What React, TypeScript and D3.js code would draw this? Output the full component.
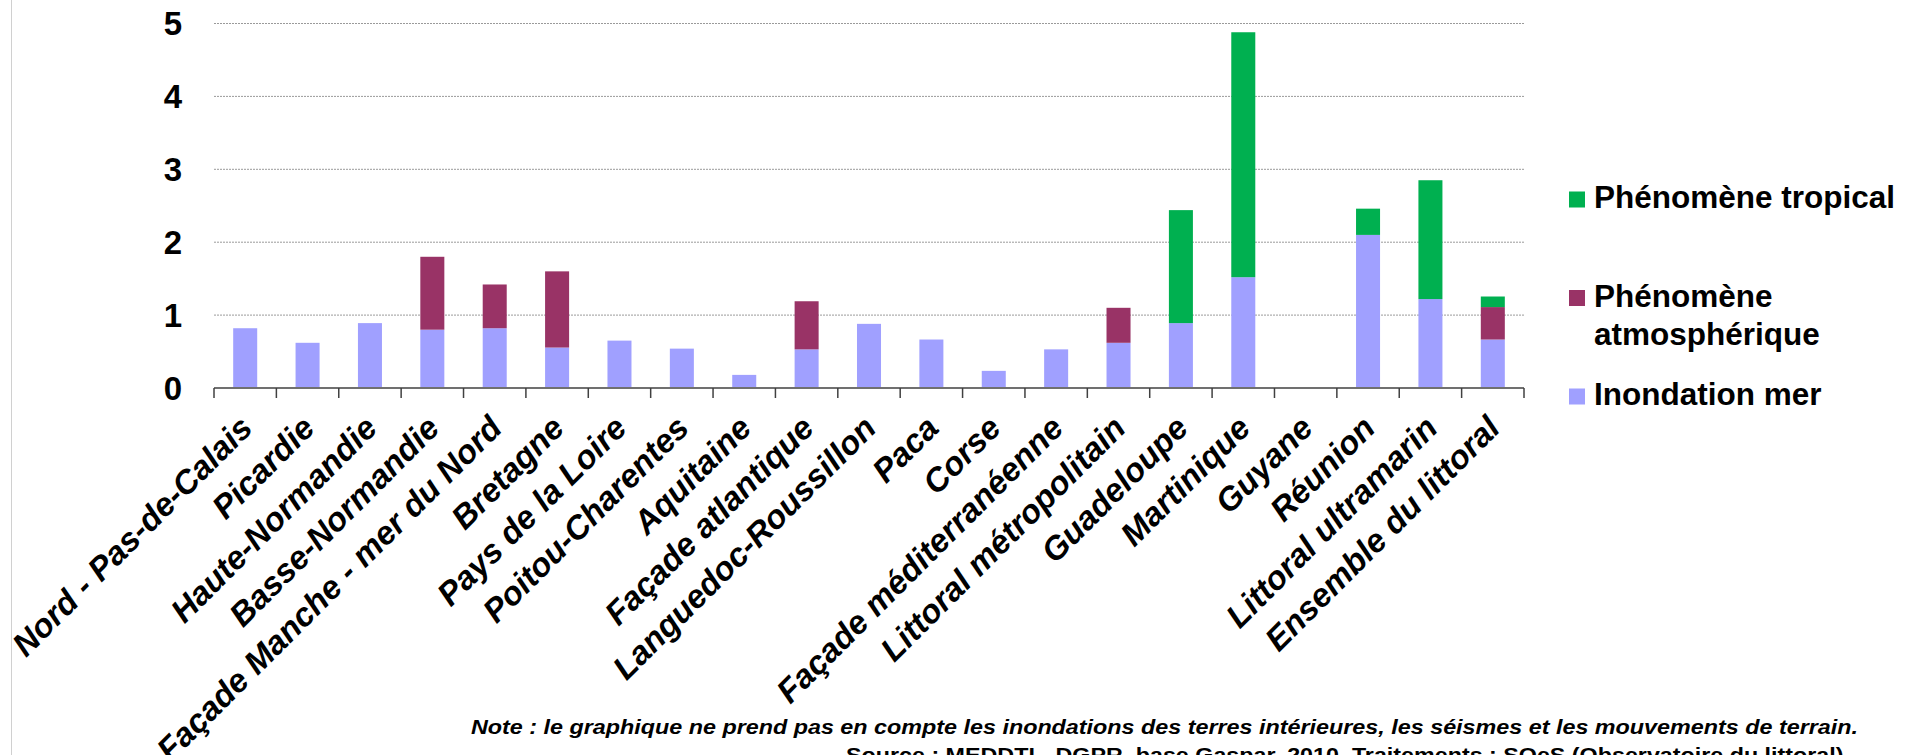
import React from "react";
import * as d3 from "d3";

const categories = [
  "Nord - Pas-de-Calais",
  "Picardie",
  "Haute-Normandie",
  "Basse-Normandie",
  "Façade Manche - mer du Nord",
  "Bretagne",
  "Pays de la Loire",
  "Poitou-Charentes",
  "Aquitaine",
  "Façade atlantique",
  "Languedoc-Roussillon",
  "Paca",
  "Corse",
  "Façade méditerranéenne",
  "Littoral métropolitain",
  "Guadeloupe",
  "Martinique",
  "Guyane",
  "Réunion",
  "Littoral ultramarin",
  "Ensemble du littoral",
];

const inondationMer = [0.82, 0.62, 0.89, 0.8, 0.82, 0.555, 0.65, 0.54, 0.18, 0.53, 0.88, 0.665, 0.235, 0.53, 0.62, 0.89, 1.52, 0, 2.1, 1.22, 0.665];
const phenomeneAtmospherique = [0, 0, 0, 1.0, 0.6, 1.045, 0, 0, 0, 0.66, 0, 0, 0, 0, 0.48, 0, 0, 0, 0, 0, 0.445];
const phenomeneTropical = [0, 0, 0, 0, 0, 0, 0, 0, 0, 0, 0, 0, 0, 0, 0, 1.55, 3.36, 0, 0.36, 1.63, 0.145];

const yTicks = [0, 1, 2, 3, 4, 5];

const seriesKeys = ["mer", "atm", "trop"];
const seriesColors: Record<string, string> = { mer: "#A0A0FF", atm: "#993366", trop: "#00B050" };

const legendItems = [
  { key: "trop", lines: ["Phénomène tropical"] },
  { key: "atm", lines: ["Phénomène", "atmosphérique"] },
  { key: "mer", lines: ["Inondation mer"] },
];

const FONT = "'Liberation Sans', Arial, Helvetica, sans-serif";

export default function App() {
  const W = 1909;
  const H = 755;
  const left = 214;
  const right = 1524;
  const y0 = 388;
  const yTop = 23.5;

  const x = d3.scaleBand<string>().domain(categories).range([left, right]).padding(0);
  const y = d3.scaleLinear().domain([0, 5]).range([y0, yTop]);

  const table = categories.map((c, i) => ({
    cat: c,
    mer: inondationMer[i],
    atm: phenomeneAtmospherique[i],
    trop: phenomeneTropical[i],
  }));
  const stacked = d3.stack<any>().keys(seriesKeys)(table);

  const bw = x.bandwidth();
  const barW = bw * 0.385;

  const legendX = 1569;
  const legendRows = [208, 306.5, 405];

  return (
    <svg
      width={W}
      height={H}
      style={{ position: "absolute", left: 0, top: 0, display: "block", background: "#fff" }}
      fontFamily={FONT}
    >
      <rect x={0} y={0} width={W} height={H} fill="#fff" />
      <line x1={11.5} x2={11.5} y1={0} y2={H} stroke="#d0d0d0" strokeWidth={1} />

      {/* gridlines */}
      {yTicks.filter((t) => t > 0).map((t) => (
        <line key={"g" + t} x1={left} x2={right} y1={y(t)} y2={y(t)} stroke="#9a9a9a" strokeWidth={1} strokeDasharray="2,1" />
      ))}

      {/* y tick labels */}
      {yTicks.map((t) => (
        <text key={"yl" + t} x={182} y={y(t)} dy="0.36em" textAnchor="end" fontSize={33} fontWeight="bold" fill="#000">
          {t}
        </text>
      ))}

      {/* bars */}
      {stacked.map((s) => (
        <g key={s.key} fill={seriesColors[s.key]}>
          {s.map((d: any, i: number) => {
            const h = y(d[0]) - y(d[1]);
            if (h <= 0) return null;
            return (
              <rect
                key={i}
                x={(x(categories[i]) as number) + (bw - barW) / 2}
                y={y(d[1])}
                width={barW}
                height={h}
              />
            );
          })}
        </g>
      ))}

      {/* x axis */}
      <line x1={left} x2={right} y1={y0} y2={y0} stroke="#707070" strokeWidth={2} />
      {categories.map((c) => (
        <line key={"t" + c} x1={x(c) as number} x2={x(c) as number} y1={y0} y2={y0 + 10} stroke="#404040" strokeWidth={1.5} />
      ))}
      <line x1={right} x2={right} y1={y0} y2={y0 + 10} stroke="#404040" strokeWidth={1.5} />

      {/* x labels */}
      {categories.map((c) => {
        const cx = (x(c) as number) + bw / 2 + 9;
        const cy = 430;
        return (
          <text
            key={"xl" + c}
            transform={`translate(${cx},${cy}) rotate(-45)`}
            textAnchor="end"
            fontSize={33}
            fontWeight="bold"
            fontStyle="italic"
            fill="#000"
          >
            {c}
          </text>
        );
      })}

      {/* legend */}
      {legendItems.map((it, k) => (
        <g key={"lg" + it.key}>
          <rect x={legendX} y={legendRows[k] - 16.5} width={16} height={16} fill={seriesColors[it.key]} />
          {it.lines.map((ln, j) => (
            <text key={j} x={legendX + 25} y={legendRows[k] + j * 38.5} fontSize={31.5} fontWeight="bold" fill="#000">
              {ln}
            </text>
          ))}
        </g>
      ))}

      {/* footer */}
      <text x={471} y={734} fontSize={21} fontWeight="bold" fontStyle="italic" textLength={1387} lengthAdjust="spacingAndGlyphs" fill="#000">
        Note : le graphique ne prend pas en compte les inondations des terres intérieures, les séismes et les mouvements de terrain.
      </text>
      <text x={846} y={762} fontSize={21} fontWeight="bold" textLength={1004} lengthAdjust="spacingAndGlyphs" fill="#000">
        Source : MEDDTL, DGPR, base Gaspar, 2010. Traitements : SOeS (Observatoire du littoral).
      </text>
    </svg>
  );
}
